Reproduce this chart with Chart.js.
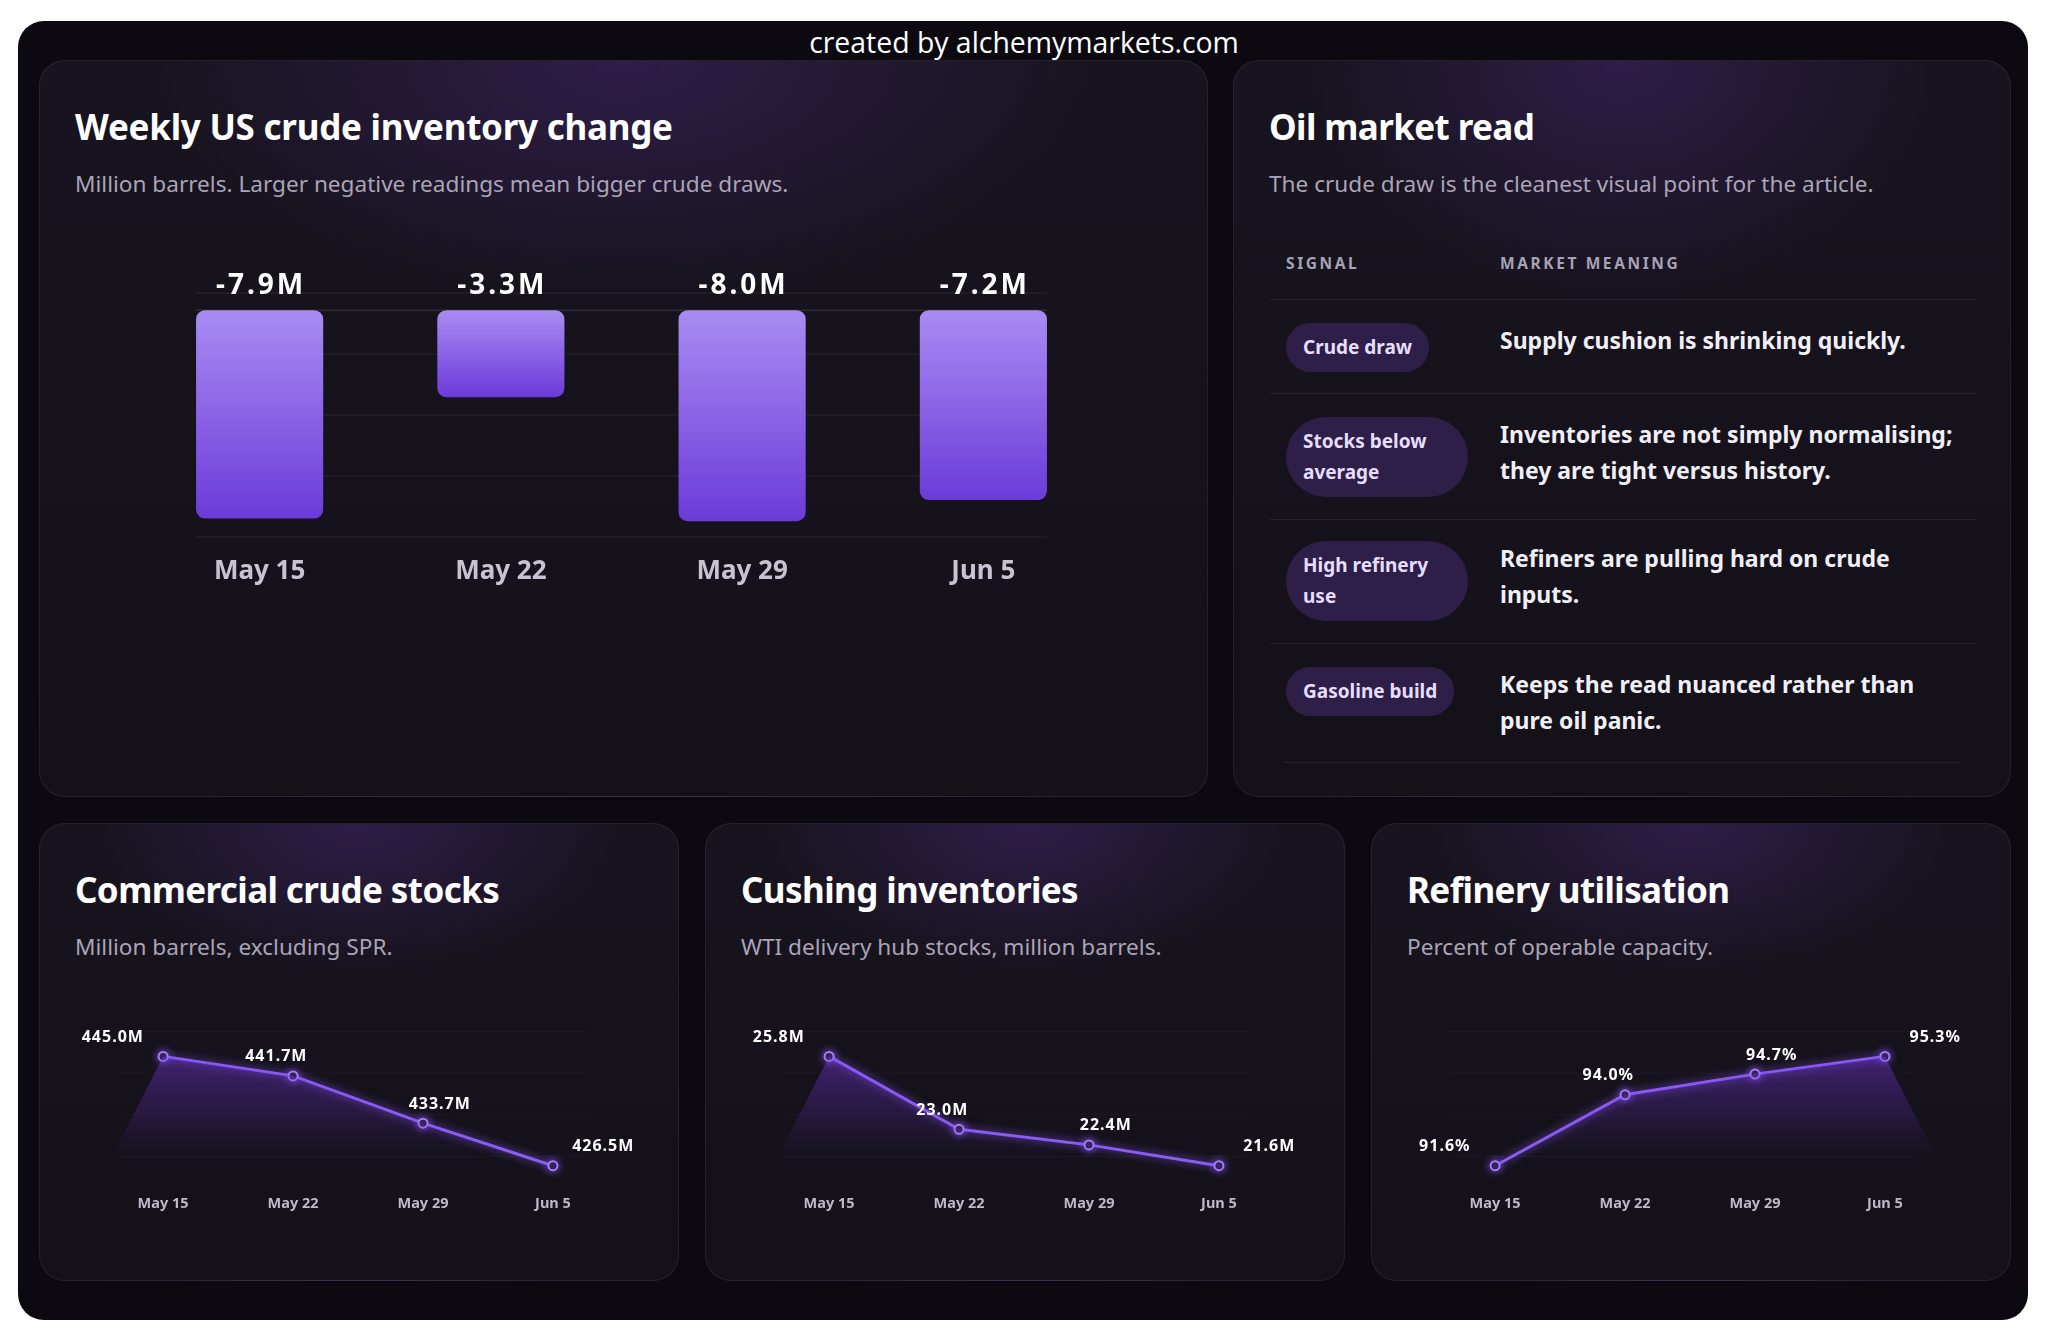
<!DOCTYPE html>
<html><head><meta charset="utf-8">
<script src="https://cdn.jsdelivr.net/npm/chart.js@4.4.1/dist/chart.umd.min.js"></script>
<style>
html,body{margin:0;padding:0;background:#fff;}
body{width:2048px;height:1343px;position:relative;overflow:hidden;font-family:"Noto Sans",sans-serif;}
.frame{position:absolute;left:18px;top:21px;width:2010px;height:1299px;border-radius:26px;background:#0c0a10;}
.wm{position:absolute;left:0;width:2048px;top:24px;line-height:36px;text-align:center;color:#fff;font-family:"Open Sans",sans-serif;font-size:28.4px;}
.card{position:absolute;border-radius:26px;border:1px solid rgba(255,255,255,0.07);box-sizing:border-box;
 background: radial-gradient(ellipse 40% 32% at 50% 0%, rgba(98,52,170,0.30), rgba(98,52,170,0) 100%), linear-gradient(180deg,#18141f 0%, #141119 100%);}
.title{position:absolute;left:35px;top:44px;font-weight:700;font-size:35px;line-height:44px;color:#fff;letter-spacing:-0.6px;white-space:nowrap;}
.sub{position:absolute;left:35px;top:108px;font-size:22.6px;line-height:30px;color:#aaa4b6;white-space:nowrap;}
canvas{position:absolute;}
.th{position:absolute;top:192px;font-size:15.5px;line-height:21px;font-weight:700;letter-spacing:2.6px;color:#a7a2b4;white-space:nowrap;}
.hl{position:absolute;height:1px;background:rgba(255,255,255,0.08);}
.pill{position:absolute;left:52px;padding:9px 17px;line-height:31px;font-size:19px;font-weight:700;color:#e6ddff;background:#2d1f47;border-radius:999px;white-space:nowrap;}
.pill.w{width:148px;}
.mean{position:absolute;left:266px;font-size:23px;line-height:36px;font-weight:700;color:#f1eff6;white-space:nowrap;}
</style>
</head>
<body>
<div class="frame"></div>
<div class="wm">created by alchemymarkets.com</div>

<div class="card" style="left:39px;top:60px;width:1169px;height:737px;">
  <div class="title" style="letter-spacing:-0.25px;">Weekly US crude inventory change</div>
  <div class="sub">Million barrels. Larger negative readings mean bigger crude draws.</div>
</div>

<div class="card" style="left:1233px;top:60px;width:778px;height:737px;">
  <div class="title">Oil market read</div>
  <div class="sub">The crude draw is the cleanest visual point for the article.</div>
  <div class="th" style="left:52px;">SIGNAL</div>
  <div class="th" style="left:266px;">MARKET MEANING</div>
  <div class="hl" style="top:238px;left:36px;width:707px;"></div>

  <div class="pill" style="top:262px;">Crude draw</div>
  <div class="mean" style="top:261px;">Supply cushion is shrinking quickly.</div>
  <div class="hl" style="top:332px;left:36px;width:707px;"></div>

  <div class="pill w" style="top:356px;">Stocks below<br>average</div>
  <div class="mean" style="top:355px;">Inventories are not simply normalising;<br>they are tight versus history.</div>
  <div class="hl" style="top:458px;left:36px;width:707px;"></div>

  <div class="pill w" style="top:480px;">High refinery<br>use</div>
  <div class="mean" style="top:479px;">Refiners are pulling hard on crude<br>inputs.</div>
  <div class="hl" style="top:582px;left:36px;width:707px;"></div>

  <div class="pill" style="top:606px;">Gasoline build</div>
  <div class="mean" style="top:605px;">Keeps the read nuanced rather than<br>pure oil panic.</div>
  <div class="hl" style="top:701px;left:50px;width:676px;"></div>
</div>

<div class="card" style="left:39px;top:823px;width:640px;height:458px;">
  <div class="title">Commercial crude stocks</div>
  <div class="sub">Million barrels, excluding SPR.</div>
</div>
<div class="card" style="left:705px;top:823px;width:640px;height:458px;">
  <div class="title">Cushing inventories</div>
  <div class="sub">WTI delivery hub stocks, million barrels.</div>
</div>
<div class="card" style="left:1371px;top:823px;width:640px;height:458px;">
  <div class="title">Refinery utilisation</div>
  <div class="sub">Percent of operable capacity.</div>
</div>

<canvas id="barChart" width="965" height="338" style="left:139px;top:250px;width:965px;height:338px;"></canvas>
<canvas id="lineA" width="640" height="225" style="left:39px;top:1000px;width:640px;height:225px;"></canvas>
<canvas id="lineB" width="640" height="225" style="left:705px;top:1000px;width:640px;height:225px;"></canvas>
<canvas id="lineC" width="640" height="225" style="left:1371px;top:1000px;width:640px;height:225px;"></canvas>

<script>
// ---- data ----
const weekLabels = ['May 15', 'May 22', 'May 29', 'Jun 5'];
const crudeChange = [-7.9, -3.3, -8.0, -7.2];
const commercialStocks = [445.0, 441.7, 433.7, 426.5];
const cushingStocks = [25.8, 23.0, 22.4, 21.6];
const refineryUtil = [91.6, 94.0, 94.7, 95.3];
const barAxisMin = -8.6;
const barAxisMax = 0.65;

const FONT = '"Noto Sans", sans-serif';

// ---- bar chart ----
function barGradient(c) {
  const chart = c.chart;
  if (!chart.chartArea) return '#8b5cf6';
  const y = chart.scales.y;
  const y0 = y.getPixelForValue(0), y1 = y.getPixelForValue(c.raw);
  const g = chart.ctx.createLinearGradient(0, y0, 0, y1);
  g.addColorStop(0, '#a88cf2');
  g.addColorStop(0.5, '#8b63e6');
  g.addColorStop(1, '#6b3bd9');
  return g;
}

const barGrid = {
  id: 'barGrid',
  beforeDatasetsDraw(chart) {
    const {ctx, chartArea: a} = chart;
    const meta = chart.getDatasetMeta(0);
    const f = meta.data[0], l = meta.data[meta.data.length - 1];
    const x0 = f.x - f.width / 2, x1 = l.x + l.width / 2;
    ctx.save();
    ctx.lineWidth = 1.5;
    ctx.strokeStyle = 'rgba(255,255,255,0.055)';
    for (let i = 0; i <= 4; i++) {
      const y = a.top + i * (a.bottom - a.top) / 4;
      ctx.beginPath(); ctx.moveTo(x0, y); ctx.lineTo(x1, y); ctx.stroke();
    }
    const yz = chart.scales.y.getPixelForValue(0);
    ctx.strokeStyle = 'rgba(255,255,255,0.11)';
    ctx.beginPath(); ctx.moveTo(x0, yz); ctx.lineTo(x1, yz); ctx.stroke();
    ctx.restore();
  }
};

const barLabels = {
  id: 'barLabels',
  afterDatasetsDraw(chart) {
    const {ctx} = chart;
    const meta = chart.getDatasetMeta(0);
    const yz = chart.scales.y.getPixelForValue(0);
    const vals = chart.data.datasets[0].data;
    ctx.save();
    ctx.font = '700 28px ' + FONT;
    ctx.letterSpacing = '3px';
    ctx.fillStyle = '#ffffff';
    ctx.textAlign = 'center';
    ctx.textBaseline = 'middle';
    meta.data.forEach((bar, i) => {
      ctx.fillText(vals[i].toFixed(1) + 'M', bar.x + 1.5, yz - 24);
    });
    ctx.restore();
  }
};

new Chart(document.getElementById('barChart'), {
  type: 'bar',
  data: {
    labels: weekLabels,
    datasets: [{
      data: crudeChange,
      backgroundColor: barGradient,
      borderRadius: 9,
      borderSkipped: false,
      barPercentage: 0.527,
      categoryPercentage: 1
    }]
  },
  options: {
    responsive: false,
    animation: false,
    events: [],
    layout: {padding: {top: 43, left: 0, right: 0, bottom: 0}},
    plugins: {legend: {display: false}, tooltip: {enabled: false}},
    scales: {
      x: {
        grid: {display: false, drawTicks: false},
        border: {display: false},
        afterFit(s) { s.height = 51; },
        ticks: {padding: 19, color: '#c6c3d3', font: {family: FONT, size: 26, weight: '700'}}
      },
      y: {display: false, min: barAxisMin, max: barAxisMax}
    }
  },
  plugins: [barGrid, barLabels]
});

// ---- line charts ----
const lineGrid = {
  id: 'lineGrid',
  beforeDatasetsDraw(chart) {
    const {ctx, chartArea: a} = chart;
    const xs = chart.scales.x;
    const x0 = xs.getPixelForValue(-0.35), x1 = xs.getPixelForValue(3.25);
    ctx.save();
    ctx.lineWidth = 1;
    ctx.strokeStyle = 'rgba(255,255,255,0.035)';
    [25, 66.7, 108.3, 150].forEach(d => {
      const y = a.top + d;
      ctx.beginPath(); ctx.moveTo(x0, y); ctx.lineTo(x1, y); ctx.stroke();
    });
    ctx.restore();
  }
};

const lineGlow = {
  id: 'lineGlow',
  beforeDatasetDraw(chart, args) {
    if (args.index !== 1) return;
    const ctx = chart.ctx;
    ctx.save();
    ctx.shadowColor = 'rgba(139,92,246,0.85)';
    ctx.shadowBlur = 9;
  },
  afterDatasetDraw(chart, args) {
    if (args.index !== 1) return;
    chart.ctx.restore();
  }
};

const lineLabels = {
  id: 'lineLabels',
  afterDatasetsDraw(chart, args, opts) {
    const {ctx} = chart;
    const meta = chart.getDatasetMeta(1);
    const pts = meta.data;
    const data = chart.data.datasets[1].data;
    const cx = (pts[0].x + pts[pts.length - 1].x) / 2;
    ctx.save();
    ctx.font = '700 16px ' + FONT;
    ctx.letterSpacing = '1px';
    ctx.fillStyle = '#ffffff';
    ctx.textAlign = 'center';
    ctx.textBaseline = 'middle';
    pts.forEach((p, i) => {
      ctx.fillText(data[i].y.toFixed(1) + opts.suffix, cx + (p.x - cx) * 1.258, p.y - 19);
    });
    ctx.restore();
  }
};

function makeLine(id, values, suffix) {
  const vmax = Math.max(...values), vmin = Math.min(...values), r = vmax - vmin;
  const pts = values.map((v, i) => ({x: i, y: v}));
  const fillPts = [{x: -0.43, y: vmin}].concat(pts, [{x: values.length - 1 + 0.43, y: vmin}]);
  const fillGrad = (c) => {
    const chart = c.chart;
    if (!chart.chartArea) return 'rgba(0,0,0,0)';
    const top = chart.scales.y.getPixelForValue(vmax);
    const g = chart.ctx.createLinearGradient(0, top, 0, top + 100);
    g.addColorStop(0, 'rgba(124,58,237,0.40)');
    g.addColorStop(1, 'rgba(124,58,237,0)');
    return g;
  };
  new Chart(document.getElementById(id), {
    type: 'line',
    data: {
      datasets: [
        {data: fillPts, borderWidth: 0, pointRadius: 0, fill: {value: vmin}, backgroundColor: fillGrad, tension: 0},
        {data: pts, borderColor: '#8b5cf6', borderWidth: 3, pointRadius: 4.5,
         pointBackgroundColor: '#1d1530', pointBorderColor: '#a37cf7', pointBorderWidth: 2, fill: false, tension: 0}
      ]
    },
    options: {
      responsive: false,
      animation: false,
      events: [],
      layout: {padding: 0},
      plugins: {legend: {display: false}, tooltip: {enabled: false}, lineLabels: {suffix: suffix}},
      scales: {
        x: {
          type: 'linear', min: -0.905, max: 3.92,
          grid: {display: false, drawTicks: false},
          border: {display: false},
          afterFit(s) { s.height = 40; },
          ticks: {stepSize: 1, includeBounds: false, autoSkip: false, maxRotation: 0, padding: 10,
                  color: '#bdb9c9', font: {family: FONT, size: 14.5, weight: '700'},
                  callback: (v) => (weekLabels[v] !== undefined ? weekLabels[v] : '')}
        },
        y: {display: false, min: vmin - 0.1765 * r, max: vmax + 0.4563 * r}
      }
    },
    plugins: [lineGrid, lineGlow, lineLabels]
  });
}

makeLine('lineA', commercialStocks, 'M');
makeLine('lineB', cushingStocks, 'M');
makeLine('lineC', refineryUtil, '%');
</script>
</body></html>
